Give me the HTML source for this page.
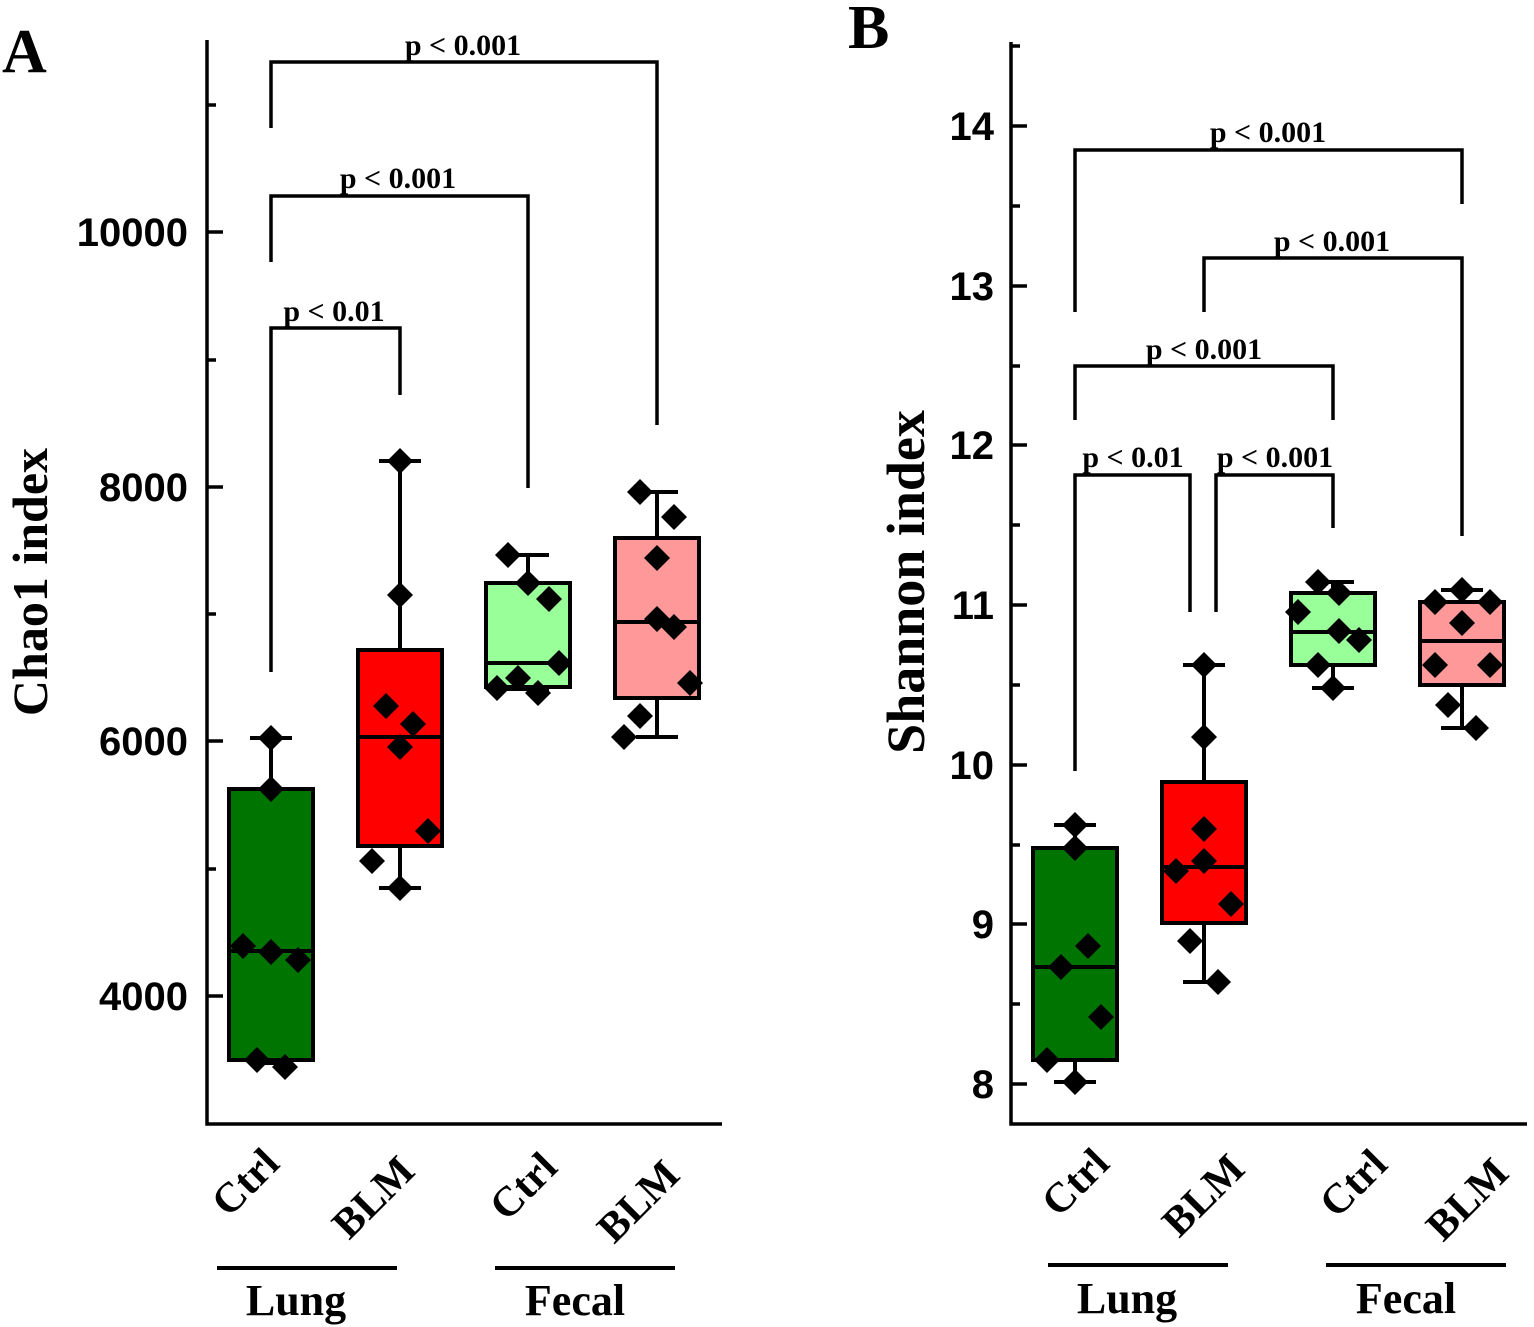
<!DOCTYPE html>
<html><head><meta charset="utf-8"><style>html,body{margin:0;padding:0;background:#fff}svg{display:block}</style></head>
<body>
<svg width="1534" height="1327" viewBox="0 0 1534 1327" xmlns="http://www.w3.org/2000/svg">
<defs><polygon id="d" points="0,-13 13,0 0,13 -13,0" fill="#000"/></defs>
<g font-family="Liberation Serif, serif" font-weight="bold" fill="#000">
<!-- Panel A -->
<text x="2" y="72" font-size="62">A</text>
<g stroke="#000" stroke-width="3.5" fill="none">
<path d="M207,40 V1124 H722"/>
<path d="M207,232 h16 M207,487 h16 M207,741 h16 M207,996 h16 M207,105 h9 M207,360 h9 M207,614 h9 M207,869 h9"/>
<path d="M271,128 V62 H657 V425"/>
<path d="M271,262 V196 H528 V488"/>
<path d="M271,672 V328 H400 V395"/>
</g>
<g font-family="Liberation Sans, sans-serif" font-size="40" text-anchor="end">
<text x="188" y="246">10000</text><text x="188" y="501">8000</text><text x="188" y="755">6000</text><text x="188" y="1010">4000</text>
</g>
<g font-size="30" text-anchor="middle">
<text x="463" y="55">p &lt; 0.001</text><text x="398" y="188">p &lt; 0.001</text><text x="334" y="321">p &lt; 0.01</text>
</g>
<text transform="translate(47,582) rotate(-90)" font-size="50" text-anchor="middle">Chao1 index</text>
<g stroke="#000" stroke-width="4">
<path d="M271,738 V789 M271,1060 V1063 M250,738 h42 M250,1063 h42" fill="none"/>
<rect x="229" y="789" width="84" height="271" fill="#007400"/>
<path d="M229,951 h84" fill="none"/>
<path d="M400,461 V650 M400,846 V888 M379,461 h42 M379,888 h42" fill="none"/>
<rect x="358" y="650" width="84" height="196" fill="#ff0000"/>
<path d="M358,737 h84" fill="none"/>
<path d="M528,555 V583 M507,555 h42 M507,689 h42" fill="none"/>
<rect x="486" y="583" width="84" height="104" fill="#99ff99"/>
<path d="M486,663 h84" fill="none"/>
<path d="M657,492 V538 M657,698 V737 M636,492 h42 M636,737 h42" fill="none"/>
<rect x="615" y="538" width="84" height="160" fill="#ff9999"/>
<path d="M615,622 h84" fill="none"/>
</g>
<g>
<use href="#d" x="271" y="738"/><use href="#d" x="271" y="789"/><use href="#d" x="243" y="946"/><use href="#d" x="271" y="952"/><use href="#d" x="298" y="960"/><use href="#d" x="257" y="1060"/><use href="#d" x="285" y="1067"/>
<use href="#d" x="400" y="461"/><use href="#d" x="400" y="595"/><use href="#d" x="386" y="706"/><use href="#d" x="400" y="747"/><use href="#d" x="413" y="724"/><use href="#d" x="428" y="831"/><use href="#d" x="372" y="861"/><use href="#d" x="400" y="888"/>
<use href="#d" x="508" y="555"/><use href="#d" x="528" y="583"/><use href="#d" x="549" y="599"/><use href="#d" x="559" y="663"/><use href="#d" x="518" y="678"/><use href="#d" x="497" y="688"/><use href="#d" x="538" y="693"/>
<use href="#d" x="640" y="492"/><use href="#d" x="674" y="517"/><use href="#d" x="657" y="558"/><use href="#d" x="657" y="619"/><use href="#d" x="674" y="627"/><use href="#d" x="690" y="683"/><use href="#d" x="640" y="716"/><use href="#d" x="624" y="737"/>
</g>
<g font-size="42" text-anchor="middle">
<text transform="translate(255,1192) rotate(-45)">Ctrl</text>
<text transform="translate(383,1207) rotate(-45)">BLM</text>
<text transform="translate(533,1196) rotate(-45)">Ctrl</text>
<text transform="translate(648,1211) rotate(-45)">BLM</text>
</g>
<path d="M217,1268 H397 M495,1268 H675" stroke="#000" stroke-width="4"/>
<g font-size="44" text-anchor="middle"><text x="296" y="1315">Lung</text><text x="575" y="1315">Fecal</text></g>

<!-- Panel B -->
<text x="848" y="48" font-size="62">B</text>
<g stroke="#000" stroke-width="3.5" fill="none">
<path d="M1011,42 V1124 H1527"/>
<path d="M1011,126 h16 M1011,286 h16 M1011,445 h16 M1011,605 h16 M1011,765 h16 M1011,924 h16 M1011,1084 h16 M1011,46 h9 M1011,206 h9 M1011,366 h9 M1011,525 h9 M1011,685 h9 M1011,845 h9 M1011,1004 h9"/>
<path d="M1075,312 V150 H1462 V204"/>
<path d="M1204,312 V258 H1462 V536"/>
<path d="M1075,420 V366 H1333 V420"/>
<path d="M1075,771 V475 H1190 V612"/>
<path d="M1216,612 V475 H1333 V528"/>
</g>
<g font-family="Liberation Sans, sans-serif" font-size="40" text-anchor="end">
<text x="994" y="140">14</text><text x="994" y="300">13</text><text x="994" y="459">12</text><text x="994" y="619">11</text><text x="994" y="779">10</text><text x="994" y="938">9</text><text x="994" y="1098">8</text>
</g>
<g font-size="30" text-anchor="middle">
<text x="1268" y="142">p &lt; 0.001</text><text x="1332" y="251">p &lt; 0.001</text><text x="1204" y="359">p &lt; 0.001</text><text x="1133" y="467">p &lt; 0.01</text><text x="1275" y="467">p &lt; 0.001</text>
</g>
<text transform="translate(924,582) rotate(-90)" font-size="54" text-anchor="middle">Shannon index</text>
<g stroke="#000" stroke-width="4">
<path d="M1075,825 V848 M1075,1060 V1082 M1054,825 h42 M1054,1082 h42" fill="none"/>
<rect x="1033" y="848" width="84" height="212" fill="#007400"/>
<path d="M1033,967 h84" fill="none"/>
<path d="M1204,665 V782 M1204,923 V982 M1183,665 h42 M1183,982 h42" fill="none"/>
<rect x="1162" y="782" width="84" height="141" fill="#ff0000"/>
<path d="M1162,867 h84" fill="none"/>
<path d="M1333,582 V593 M1333,665 V688 M1312,582 h42 M1312,688 h42" fill="none"/>
<rect x="1291" y="593" width="84" height="72" fill="#99ff99"/>
<path d="M1291,632 h84" fill="none"/>
<path d="M1462,590 V602 M1462,685 V728 M1441,590 h42 M1441,728 h42" fill="none"/>
<rect x="1420" y="602" width="84" height="83" fill="#ff9999"/>
<path d="M1420,641 h84" fill="none"/>
</g>
<g>
<use href="#d" x="1075" y="825"/><use href="#d" x="1075" y="848"/><use href="#d" x="1088" y="946"/><use href="#d" x="1061" y="967"/><use href="#d" x="1101" y="1017"/><use href="#d" x="1047" y="1060"/><use href="#d" x="1075" y="1082"/>
<use href="#d" x="1204" y="665"/><use href="#d" x="1204" y="737"/><use href="#d" x="1204" y="829"/><use href="#d" x="1204" y="861"/><use href="#d" x="1176" y="871"/><use href="#d" x="1231" y="904"/><use href="#d" x="1190" y="941"/><use href="#d" x="1218" y="982"/>
<use href="#d" x="1318" y="582"/><use href="#d" x="1339" y="593"/><use href="#d" x="1298" y="612"/><use href="#d" x="1339" y="631"/><use href="#d" x="1359" y="640"/><use href="#d" x="1318" y="665"/><use href="#d" x="1333" y="688"/>
<use href="#d" x="1462" y="590"/><use href="#d" x="1435" y="602"/><use href="#d" x="1490" y="602"/><use href="#d" x="1462" y="623"/><use href="#d" x="1435" y="665"/><use href="#d" x="1490" y="665"/><use href="#d" x="1448" y="705"/><use href="#d" x="1476" y="728"/>
</g>
<g font-size="42" text-anchor="middle">
<text transform="translate(1085,1192) rotate(-45)">Ctrl</text>
<text transform="translate(1213,1205) rotate(-45)">BLM</text>
<text transform="translate(1363,1193) rotate(-45)">Ctrl</text>
<text transform="translate(1477,1209) rotate(-45)">BLM</text>
</g>
<path d="M1048,1265 H1228 M1326,1265 H1506" stroke="#000" stroke-width="4"/>
<g font-size="44" text-anchor="middle"><text x="1127" y="1313">Lung</text><text x="1406" y="1313">Fecal</text></g>
</g>
</svg>
</body></html>
